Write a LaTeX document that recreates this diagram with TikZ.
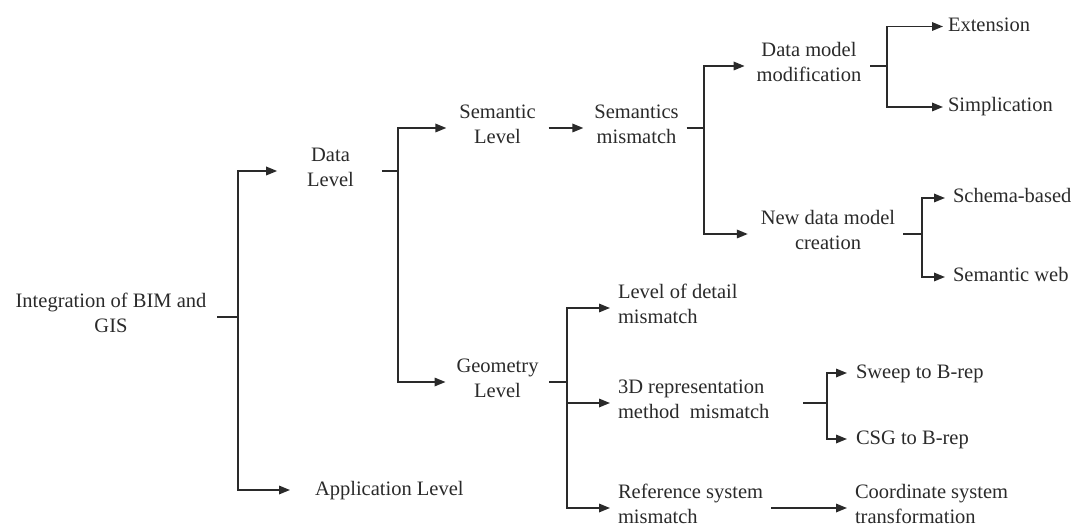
\documentclass[tikz,border=0pt]{standalone}
\usepackage{fontspec}
\setmainfont{Liberation Serif}
\usetikzlibrary{arrows.meta}
\definecolor{ink}{HTML}{2A2A2A}
\begin{document}
\begin{tikzpicture}[x=1pt,y=-1pt,
  every node/.style={inner sep=0pt, outer sep=0pt, text=ink,
    font=\fontsize{20.5}{25}\selectfont,
    execute at begin node=\strut, execute at end node=\strut},
  ctr/.style={align=center, anchor=center},
  lft/.style={align=left, anchor=west},
  wire/.style={draw=ink, line width=1.7pt},
  arr/.style={wire, -{Triangle[length=11pt,width=8.5pt]}}]
\useasboundingbox (0,0) rectangle (1084,529);

% tree labels
\node[ctr] (root)   at (111,317)   {Integration of BIM and\\GIS};
\node[ctr] (data)   at (330.5,171) {Data\\Level};
\node[lft] (app)    at (315,490)   {Application Level};
\node[ctr] (sem)    at (497.5,128) {Semantic\\Level};
\node[ctr] (semmis) at (636.5,128) {Semantics\\mismatch};
\node[ctr] (dmm)    at (809,66)    {Data model\\modification};
\node[lft] (ext)    at (948,26.5)  {Extension};
\node[lft] (simp)   at (948,107)   {Simplication};
\node[ctr] (ndm)    at (828,234)   {New data model\\creation};
\node[lft] (schema) at (953,198)   {Schema-based};
\node[lft] (semweb) at (953,277)   {Semantic web};
\node[ctr] (geo)    at (497.5,382) {Geometry\\Level};
\node[lft] (lod)    at (618,308)   {Level of detail\\mismatch};
\node[lft] (rep)    at (618,403)   {3D representation\\method\ \ mismatch};
\node[lft] (ref)    at (618,508)   {Reference system\\mismatch};
\node[lft] (sweep)  at (856,373)   {Sweep to B-rep};
\node[lft] (csg)    at (856,439)   {CSG to B-rep};
\node[lft] (coord)  at (855,508)   {Coordinate system\\transformation};

% branch points
\coordinate (j0) at (238,317);
\coordinate (j1) at (398,171);
\coordinate (j2) at (704,128);
\coordinate (j3) at (887,66);
\coordinate (j4) at (922,234);
\coordinate (j5) at (567,382);
\coordinate (j6) at (827,403);

% root
\draw[wire, shorten <=11pt] (root.east) -- (j0);
\draw[arr, shorten >=30pt] (j0) |- (data.west);
\draw[arr, shorten >=25pt] (j0) |- (app.west);

% data level
\draw[wire, shorten <=28pt] (data.east) -- (j1);
\draw[arr, shorten >=13pt] (j1) |- (sem.west);
\draw[arr, shorten >=11pt] (j1) |- (geo.west);

% semantic branch
\draw[arr, shorten <=13pt, shorten >=11pt] (sem.east) -- (semmis.west);
\draw[wire, shorten <=8pt] (semmis.east) -- (j2);
\draw[arr, shorten >=12pt] (j2) |- (dmm.west);
\draw[arr, shorten >=13pt] (j2) |- (ndm.west);

\draw[wire, shorten <=9pt] (dmm.east) -- (j3);
\draw[arr, shorten >=5pt] (j3) |- (ext.west);
\draw[arr, shorten >=5pt] (j3) |- (simp.west);

\draw[wire, shorten <=8pt] (ndm.east) -- (j4);
\draw[arr, shorten >=8pt] (j4) |- (schema.west);
\draw[arr, shorten >=8pt] (j4) |- (semweb.west);

% geometry branch
\draw[wire, shorten <=11pt] (geo.east) -- (j5);
\draw[arr, shorten >=8pt] (j5) |- (lod.west);
\draw[arr, shorten >=8pt] (j5) |- (rep.west);
\draw[arr, shorten >=8pt] (j5) |- (ref.west);

\draw[wire, shorten <=34pt] (rep.east) -- (j6);
\draw[arr, shorten >=9pt] (j6) |- (sweep.west);
\draw[arr, shorten >=9pt] (j6) |- (csg.west);

\draw[arr, shorten <=8pt, shorten >=8pt] (ref.east) -- (coord.west);
\end{tikzpicture}
\end{document}
